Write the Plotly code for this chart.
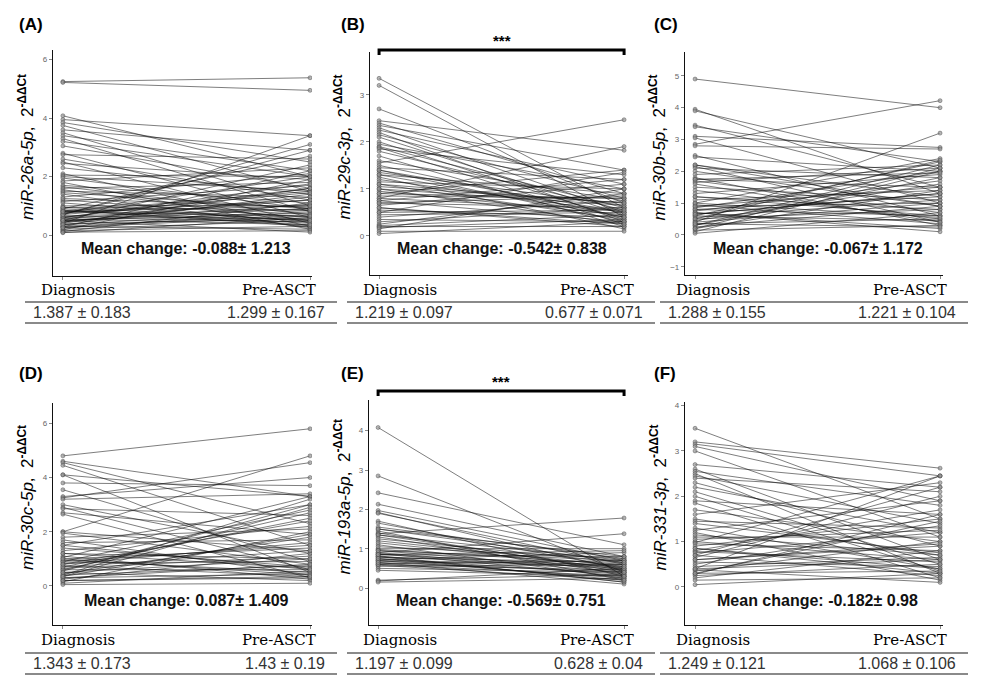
import plotly.graph_objects as go

# ---------------- data ----------------
genes = ["miR-26a-5p", "miR-29c-3p", "miR-30b-5p", "miR-30c-5p", "miR-193a-5p", "miR-331-3p"]
panel_letters = ["(A)", "(B)", "(C)", "(D)", "(E)", "(F)"]
time_labels = ["Diagnosis", "Pre-ASCT"]
mean_change = ["-0.088± 1.213", "-0.542± 0.838", "-0.067± 1.172", "0.087± 1.409", "-0.569± 0.751", "-0.182± 0.98"]
dx_summary = ["1.387 ± 0.183", "1.219 ± 0.097", "1.288 ± 0.155", "1.343 ± 0.173", "1.197 ± 0.099", "1.249 ± 0.121"]
pre_summary = ["1.299 ± 0.167", "0.677 ± 0.071", "1.221 ± 0.104", "1.43 ± 0.19", "0.628 ± 0.04", "1.068 ± 0.106"]
significance = ["", "***", "", "", "***", ""]

dx_A = [5.25, 5.22, 4.08, 3.95, 3.85, 3.75, 3.6, 3.5, 3.4, 3.3, 3.2, 3.05, 2.8, 2.75, 2.6, 2.5, 2.45, 2.3, 2.1, 2.05,
        2.0, 1.95, 1.85, 1.8, 1.7, 1.65, 1.6, 1.55, 1.5, 1.45, 1.4, 1.3, 1.2, 1.15, 1.1, 1.0, 0.95, 0.9, 0.85, 0.8,
        0.8, 0.75, 0.7, 0.65, 0.6, 0.55, 0.5, 0.5, 0.45, 0.4, 0.38, 0.35, 0.3, 0.28, 0.25, 0.2, 0.18, 0.15, 0.12, 0.1,
        0.08, 0.7, 0.9, 1.25, 0.6, 0.3, 0.45, 0.6, 0.75, 0.85, 0.5, 0.4, 0.65, 0.55, 0.35, 0.95, 0.7, 0.25, 0.5, 0.8]
pre_A = [5.38, 4.95, 2.0, 3.4, 2.5, 1.5, 2.9, 1.0, 2.2, 0.8, 2.0, 1.6, 0.6, 2.6, 1.2, 0.4, 1.9, 1.4, 0.3, 2.0,
         1.5, 0.9, 2.3, 0.2, 1.1, 0.7, 1.8, 0.5, 1.3, 0.9, 0.25, 2.1, 0.6, 1.7, 0.45, 1.0, 0.85, 2.7, 0.3, 1.5,
         0.65, 1.2, 3.1, 0.9, 1.6, 0.35, 2.4, 0.75, 1.05, 3.4, 0.55, 1.4, 0.2, 2.2, 0.8, 0.5, 1.9, 0.3, 1.1, 0.15,
         0.6, 2.9, 0.4, 0.95, 1.75, 0.7, 1.3, 0.45, 2.0, 0.35, 0.9, 1.6, 0.55, 1.2, 0.85, 0.5, 1.45, 0.65, 0.1, 1.0]

dx_B = [3.35, 3.2, 2.7, 2.45, 2.4, 2.35, 2.3, 2.25, 2.2, 2.15, 2.1, 2.0, 1.95, 1.9, 1.88, 1.85, 1.8, 1.7, 1.6, 1.55,
        1.5, 1.45, 1.4, 1.35, 1.3, 1.25, 1.2, 1.15, 1.1, 1.05, 1.0, 0.95, 0.9, 0.85, 0.8, 0.8, 0.75, 0.7, 0.65, 0.6,
        0.55, 0.5, 0.45, 0.4, 0.35, 0.3, 0.25, 0.22, 0.2, 0.18, 0.15, 0.1, 0.05, 1.0, 0.9, 1.4, 0.6, 0.75, 1.1, 1.3,
        0.7, 0.5]
pre_B = [0.6, 0.4, 0.7, 1.82, 0.9, 1.4, 0.5, 1.1, 0.3, 0.8, 0.45, 0.35, 1.0, 0.6, 0.25, 1.3, 0.55, 0.2, 0.75, 2.47,
         0.4, 1.2, 0.3, 0.65, 0.9, 0.15, 0.5, 1.0, 0.35, 0.7, 0.25, 0.45, 1.4, 0.8, 1.9, 0.55, 0.3, 0.6, 1.1, 0.2,
         0.4, 1.35, 0.5, 0.75, 0.3, 0.6, 0.9, 0.45, 0.2, 0.35, 1.0, 0.1, 0.3, 0.65, 0.8, 0.5, 0.25, 1.2, 0.7, 0.4,
         0.85, 0.55]

dx_C = [4.9, 3.95, 3.9, 3.45, 3.4, 3.1, 3.05, 2.85, 2.8, 2.5, 2.45, 2.2, 2.15, 2.1, 2.0, 1.9, 1.8, 1.75, 1.7, 1.65,
        1.5, 1.4, 1.3, 1.2, 1.1, 1.0, 0.95, 0.9, 0.85, 0.8, 0.75, 0.7, 0.65, 0.6, 0.6, 0.55, 0.5, 0.45, 0.4, 0.35,
        0.3, 0.25, 0.2, 0.15, 0.1, 0.05, 0.8, 0.5, 1.2, 0.3, 0.7, 0.9, 1.6, 0.4, 0.2, 1.0, 0.65, 0.35, 2.2, 1.75]
pre_C = [4.0, 1.3, 2.1, 1.5, 2.3, 2.75, 1.0, 4.22, 2.7, 0.6, 2.0, 1.2, 0.4, 1.8, 0.9, 2.2, 0.3, 1.5, 0.7, 2.1,
         1.1, 0.5, 1.9, 0.8, 1.4, 2.4, 0.35, 1.0, 2.0, 0.6, 1.7, 0.2, 1.3, 2.3, 0.45, 1.1, 0.8, 1.6, 3.2, 0.5,
         2.2, 0.9, 1.4, 0.3, 2.0, 0.7, 1.2, 2.35, 0.6, 1.8, 0.1, 1.5, 0.4, 1.0, 2.1, 0.55, 1.3, 0.25, 0.9, 1.95]

dx_D = [4.8, 4.6, 4.55, 4.45, 4.1, 4.1, 3.8, 3.55, 3.3, 3.25, 3.2, 3.0, 2.9, 2.85, 2.7, 2.65, 2.0, 2.0, 1.95, 1.8,
        1.7, 1.6, 1.5, 1.4, 1.3, 1.2, 1.1, 1.05, 1.0, 0.95, 0.9, 0.85, 0.8, 0.75, 0.7, 0.65, 0.6, 0.55, 0.5, 0.45,
        0.4, 0.35, 0.3, 0.25, 0.2, 0.15, 0.1, 0.05, 0.9, 0.6, 0.3, 1.0, 0.7, 0.4, 1.2, 0.8, 0.5, 0.2, 1.5, 0.35]
pre_D = [5.8, 3.3, 2.3, 1.5, 0.5, 3.3, 3.7, 0.9, 4.0, 4.55, 3.4, 1.2, 0.6, 2.6, 1.9, 0.3, 4.8, 1.3, 0.8, 2.1,
         0.4, 1.7, 3.0, 0.7, 2.2, 1.0, 0.25, 3.3, 1.4, 0.5, 2.8, 0.9, 1.6, 0.35, 2.5, 1.1, 0.6, 3.0, 0.2, 1.8,
         0.75, 2.9, 0.45, 1.2, 0.3, 2.0, 0.55, 0.1, 1.5, 2.7, 0.8, 0.4, 1.3, 3.2, 0.65, 2.4, 1.0, 0.35, 0.6, 1.9]

dx_E = [4.08, 2.85, 2.42, 2.13, 1.97, 1.92, 1.9, 1.7, 1.65, 1.55, 1.5, 1.45, 1.4, 1.38, 1.35, 1.3, 1.2, 1.1, 1.0, 0.98,
        0.95, 0.9, 0.88, 0.85, 0.82, 0.8, 0.78, 0.75, 0.72, 0.7, 0.68, 0.65, 0.62, 0.6, 0.58, 0.55, 0.5, 0.45, 0.2, 0.18,
        0.15, 1.05, 0.9, 0.8, 0.7, 1.5, 1.35, 0.85, 0.6, 0.95, 1.15, 0.75, 1.25, 0.65, 0.85]
pre_E = [0.3, 0.4, 1.1, 0.8, 0.7, 0.45, 0.6, 0.3, 0.5, 0.75, 0.65, 0.2, 0.4, 1.78, 0.7, 0.35, 0.55, 0.25, 1.0, 0.6,
         0.45, 1.38, 0.3, 0.8, 0.15, 0.5, 0.65, 0.35, 0.9, 0.25, 0.55, 0.1, 0.7, 0.45, 0.2, 0.6, 0.4, 0.3, 0.35, 0.5,
         0.25, 0.75, 0.4, 0.15, 0.6, 0.8, 0.45, 0.95, 0.3, 0.7, 0.5, 0.2, 0.65, 0.4, 0.55]

dx_F = [3.5, 3.2, 3.15, 3.1, 3.0, 2.7, 2.6, 2.55, 2.5, 2.45, 2.4, 2.3, 2.2, 2.1, 1.9, 1.85, 1.7, 1.6, 1.5, 1.45,
        1.3, 1.25, 1.2, 1.1, 1.0, 0.98, 0.95, 0.9, 0.85, 0.8, 0.78, 0.75, 0.7, 0.65, 0.6, 0.55, 0.5, 0.45, 0.4, 0.38,
        0.35, 0.3, 0.28, 0.25, 0.2, 0.15, 0.05, 1.05, 0.85, 0.6, 0.4, 1.4, 0.3, 0.7, 2.0, 1.15]
pre_F = [1.5, 2.62, 2.45, 1.9, 1.1, 2.2, 0.6, 1.8, 0.3, 1.4, 2.1, 0.9, 1.2, 0.5, 1.6, 0.2, 1.0, 2.3, 0.7, 1.3,
         0.4, 1.9, 0.15, 1.1, 0.6, 2.45, 0.8, 1.5, 0.3, 1.7, 0.55, 1.2, 0.25, 2.0, 0.9, 0.45, 1.35, 0.65, 2.45, 0.1,
         1.0, 0.35, 1.6, 0.5, 0.8, 0.2, 0.3, 1.25, 0.4, 0.95, 0.6, 0.75, 1.45, 2.2, 0.35, 0.7]

dx_all = [dx_A, dx_B, dx_C, dx_D, dx_E, dx_F]
pre_all = [pre_A, pre_B, pre_C, pre_D, pre_E, pre_F]

# ---------------- layout (pixel geometry) ----------------
W, H = 982, 683
def fx(p): return p / W
def fy(p): return 1 - p / H

frames = [
    dict(l=53, r=312, t=50, b=276, yr=[-1.4, 6.33], dt=2, xr=[0.96, 2.008]),
    dict(l=370, r=628, t=52, b=275, yr=[-0.83, 3.91], dt=1, xr=[0.963, 2.016]),
    dict(l=685, r=943, t=52, b=275, yr=[-1.26, 5.75], dt=1, xr=[0.959, 2.012]),
    dict(l=53, r=312, t=403, b=625, yr=[-1.44, 6.75], dt=2, xr=[0.96, 2.008]),
    dict(l=369, r=628, t=400, b=625, yr=[-0.94, 4.78], dt=1, xr=[0.963, 2.016]),
    dict(l=685, r=943, t=402, b=625, yr=[-0.84, 4.08], dt=1, xr=[0.959, 2.012]),
]
col_left = [25, 347, 660]
col_right = [337, 655, 968]

fig = go.Figure()
annotations = []
shapes = []
SANS = "Liberation Sans, Arial, sans-serif"
SERIF = "DejaVu Serif, serif"

def ann(x, y, text, size, family=SANS, color="#000", xanchor="center", xref="paper", **kw):
    d = dict(x=x, y=y, xref=xref, yref="paper", text=text, showarrow=False,
             xanchor=xanchor, yanchor="middle", font=dict(family=family, size=size, color=color))
    d.update(kw)
    annotations.append(d)

for i in range(6):
    f = frames[i]
    ax = "" if i == 0 else str(i + 1)
    xa, ya = "x" + ax, "y" + ax
    row, col = divmod(i, 3)
    ro = 0 if row == 0 else 350

    for a, b in zip(dx_all[i], pre_all[i]):
        fig.add_trace(go.Scatter(
            x=[1, 2], y=[a, b], mode="lines+markers", xaxis=xa, yaxis=ya,
            line=dict(color="rgba(15,15,15,0.6)", width=0.9),
            marker=dict(size=4, color="rgba(150,150,150,0.7)",
                        line=dict(color="rgba(60,60,60,0.7)", width=0.6)),
            showlegend=False, hoverinfo="skip"))

    common = dict(showgrid=False, zeroline=False, showline=True, linecolor="#111", linewidth=1.3,
                  ticks="outside", tickcolor="#888", ticklen=3, tickwidth=1)
    fig.update_layout(**{
        "xaxis" + ax: dict(domain=[fx(f["l"]), fx(f["r"])], range=f["xr"], anchor=ya,
                           tickvals=[1, 2], showticklabels=False, **common),
        "yaxis" + ax: dict(domain=[fy(f["b"]), fy(f["t"])], range=f["yr"], anchor=xa,
                           dtick=f["dt"], tick0=0, tickfont=dict(size=8, color="#666", family=SANS), **common),
    })

    L, R = col_left[col], col_right[col]
    # panel letter
    ann(fx(L - 8), fy(24 + (0 if row == 0 else 349)), "<b>" + panel_letters[i] + "</b>", 17, xanchor="left")
    # y title
    ann(fx(f["l"] - 27), fy((f["t"] + f["b"]) / 2 - 16),
        "<i>" + genes[i] + "</i>,  2<sup><b>-ΔΔCt</b></sup>", 17, textangle=-90)
    # mean change
    ann(1.5, fy(248 + (0 if row == 0 else 352)), "<b>Mean change: " + mean_change[i] + "</b>", 16,
        color="#111", xref=xa)
    # time labels
    lab_y = 290 + ro
    ann(fx(L + 14), fy(lab_y), time_labels[0], 15, family=SERIF, xanchor="left")
    ann(fx(R - 19), fy(lab_y), time_labels[1], 15, family=SERIF, xanchor="right")
    # table
    t1 = 302 + (0 if row == 0 else 351)
    t2 = 323 + (0 if row == 0 else 351)
    for ty in (t1, t2):
        shapes.append(dict(type="line", xref="paper", yref="paper", x0=fx(L), x1=fx(R), y0=fy(ty), y1=fy(ty),
                           line=dict(color="#8a8a8a", width=2)))
    vy = (t1 + t2) / 2
    ann(fx(L + 6), fy(vy), dx_summary[i], 16, color="#333", xanchor="left")
    ann(fx(R - 10), fy(vy), pre_summary[i], 16, color="#333", xanchor="right")
    # significance bracket
    if significance[i]:
        by = f["t"] - 2 if row == 0 else f["t"] - 9
        shapes.append(dict(type="path", xref=xa, yref="paper",
                           path="M 1 {a} L 1 {b} L 2 {b} L 2 {a}".format(a=fy(by + 5), b=fy(by)),
                           line=dict(color="#000", width=3)))
        ann(1.5, fy(by - 10), "<b>" + significance[i] + "</b>", 15, xref=xa)

fig.update_layout(width=W, height=H, margin=dict(l=0, r=0, t=0, b=0),
                  paper_bgcolor="white", plot_bgcolor="white",
                  annotations=annotations, shapes=shapes, showlegend=False)
fig.write_html("out.html")
